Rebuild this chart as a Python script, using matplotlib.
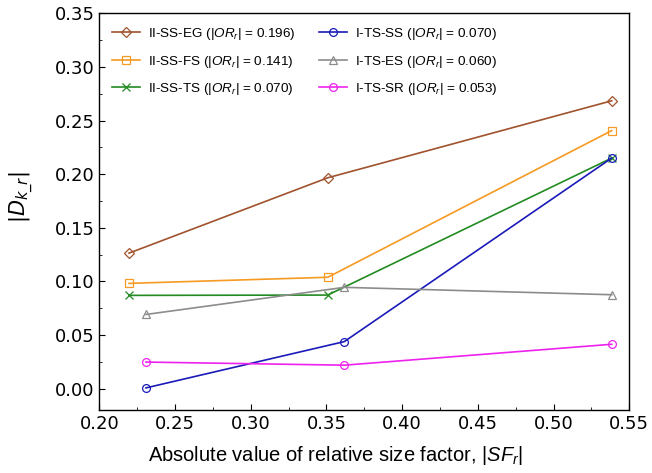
import numpy as np
import matplotlib
matplotlib.use("Agg")
import matplotlib.pyplot as plt
from matplotlib.ticker import MultipleLocator

plt.rcParams['mathtext.fontset'] = 'custom'
plt.rcParams['mathtext.rm'] = 'Liberation Sans'
plt.rcParams['mathtext.it'] = 'Liberation Sans:italic'

# x positions (|SF_r|) for the two groups of series
sf_ii = [0.2196, 0.3509, 0.5384]
sf_i = [0.2308, 0.3618, 0.5384]

# |D_k_r| values
eg = [0.1263, 0.1966, 0.2684]
fs = [0.0981, 0.1038, 0.2406]
ts = [0.0869, 0.0872, 0.2150]
ss = [0.0006, 0.0438, 0.2150]
es = [0.0691, 0.0944, 0.0875]
sr = [0.0247, 0.0218, 0.0413]

labels = ['II-SS-EG', 'II-SS-FS', 'II-SS-TS', 'I-TS-SS', 'I-TS-ES', 'I-TS-SR']
or_vals = ['0.196', '0.141', '0.070', '0.070', '0.060', '0.053']

fig = plt.figure(figsize=(6.52, 4.73), dpi=100)
ax = fig.add_axes([0.1523, 0.1332, 0.8129, 0.8387])

series = [
    (sf_ii, eg, '#a0522d', 'D'),
    (sf_ii, fs, '#f59a23', 's'),
    (sf_ii, ts, '#228b22', 'x'),
    (sf_i, ss, '#1a1ab8', 'o'),
    (sf_i, es, '#8c8c8c', '^'),
    (sf_i, sr, '#ee22ee', 'o'),
]

for (x, y, c, m), name, orv in zip(series, labels, or_vals):
    lab = name + ' (|$OR_r$| = ' + orv + ')'
    ms = 4.8 if m == 'D' else 5.6
    ax.plot(x, y, color=c, marker=m, markersize=ms, markerfacecolor='none',
            markeredgecolor=c, markeredgewidth=0.9, linewidth=1.2, label=lab)

ax.set_xlim(0.20, 0.55)
ax.set_ylim(-0.02, 0.35)
ax.xaxis.set_major_locator(MultipleLocator(0.05))
ax.xaxis.set_minor_locator(MultipleLocator(0.025))
ax.yaxis.set_major_locator(MultipleLocator(0.05))
ax.yaxis.set_minor_locator(MultipleLocator(0.025))
ax.xaxis.set_major_formatter(matplotlib.ticker.FormatStrFormatter('%.2f'))
ax.yaxis.set_major_formatter(matplotlib.ticker.FormatStrFormatter('%.2f'))
ax.tick_params(which='both', direction='in', labelsize=13)
ax.tick_params(which='major', length=4)
ax.tick_params(which='minor', length=2.5)
for s in ax.spines.values():
    s.set_linewidth(1.0)

ax.set_xlabel('Absolute value of relative size factor, |$SF_r$|',
              family='Liberation Sans', fontsize=14.5)
ax.xaxis.set_label_coords(0.445, -0.085)
ax.set_ylabel(r'$|D_{k\_r}|$', fontsize=15, math_fontfamily='dejavusans')
ax.yaxis.set_label_coords(-0.12, 0.537)

leg = ax.legend(ncol=2, loc='upper left', frameon=False,
                prop={'family': 'Liberation Sans', 'size': 9.7},
                handlelength=2.1, handletextpad=0.6, columnspacing=1.7,
                labelspacing=0.85, borderaxespad=0.55)

fig.savefig('out.png', dpi=100)
